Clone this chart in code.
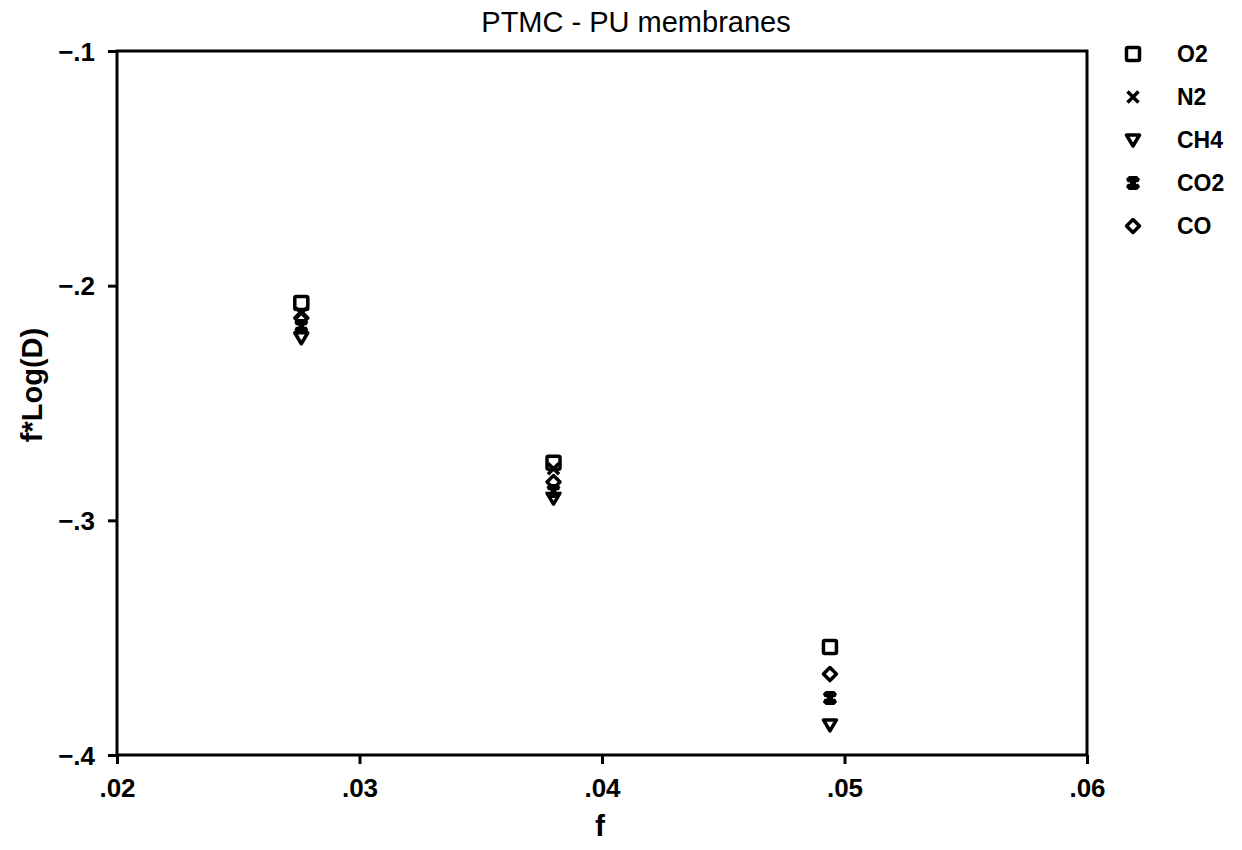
<!DOCTYPE html>
<html>
<head>
<meta charset="utf-8">
<script src="https://cdn.jsdelivr.net/npm/d3@7"></script>
<style>
  body { margin: 0; background: #fff; }
  svg { font-family: 'Liberation Sans', Arial, sans-serif; }
</style>
</head>
<body>
<script>
// readings
const gases = ['O2', 'N2', 'CH4', 'CO2', 'CO'];
const fValues = [0.0276, 0.038, 0.0494];
const o2 = [-0.2074, -0.2755, -0.354];
const n2 = [-0.2117, -0.278, -0.3757];
const ch4 = [-0.2222, -0.2905, -0.3872];
const co2 = [-0.2172, -0.2875, -0.3757];
const co = [-0.2138, -0.2837, -0.3655];
const xTicks = [0.02, 0.03, 0.04, 0.05, 0.06];
const yTicks = [-0.1, -0.2, -0.3, -0.4];

const series = { O2: o2, N2: n2, CH4: ch4, CO2: co2, CO: co };

const dimensions = {
  width: 1242,
  height: 850,
  margin: { top: 51, right: 155, bottom: 95, left: 117 },
};
dimensions.boundedWidth =
  dimensions.width - dimensions.margin.left - dimensions.margin.right;
dimensions.boundedHeight =
  dimensions.height - dimensions.margin.top - dimensions.margin.bottom;

const svg = d3
  .select('body')
  .append('svg')
  .attr('width', dimensions.width)
  .attr('height', dimensions.height);

const bounds = svg
  .append('g')
  .attr('transform', `translate(${dimensions.margin.left} ${dimensions.margin.top})`);

const xScale = d3
  .scaleLinear()
  .domain([0.02, 0.06])
  .range([0, dimensions.boundedWidth]);

const yScale = d3
  .scaleLinear()
  .domain([-0.4, -0.1])
  .range([dimensions.boundedHeight, 0]);

// old-style labels: ".02", "−.1"
const fmtX = d => '.' + d3.format('02d')(Math.round(d * 100));
const fmtY = d => '\u2212.' + Math.round(Math.abs(d) * 10);

// frame
bounds
  .append('rect')
  .attr('width', dimensions.boundedWidth)
  .attr('height', dimensions.boundedHeight)
  .attr('fill', 'none')
  .attr('stroke', '#000')
  .attr('stroke-width', 3);

const xAxis = d3
  .axisBottom(xScale)
  .tickValues(xTicks)
  .tickSize(9)
  .tickPadding(15)
  .tickFormat(fmtX);

const yAxis = d3
  .axisLeft(yScale)
  .tickValues(yTicks)
  .tickSize(9)
  .tickPadding(13)
  .tickFormat(fmtY);

const xg = bounds
  .append('g')
  .attr('transform', `translate(0 ${dimensions.boundedHeight})`)
  .call(xAxis);
const yg = bounds.append('g').call(yAxis);

[xg, yg].forEach(g => {
  g.attr('font-size', null).attr('font-family', null);
  g.select('.domain').remove();
  g.selectAll('line').attr('stroke', '#000').attr('stroke-width', 3);
  g.selectAll('text')
    .attr('fill', '#000')
    .style('font-size', '26px')
    .style('font-weight', 'bold');
});
yg.selectAll('text').attr('dy', '0.35em');

// titles
svg
  .append('text')
  .attr('x', 636)
  .attr('y', 32)
  .attr('text-anchor', 'middle')
  .style('font-size', '29px')
  .text('PTMC - PU membranes');

svg
  .append('text')
  .attr('x', 600)
  .attr('y', 836)
  .attr('text-anchor', 'middle')
  .style('font-size', '30px')
  .style('font-weight', 'bold')
  .text('f');

svg
  .append('text')
  .attr('transform', 'translate(42 385) rotate(-90)')
  .attr('text-anchor', 'middle')
  .style('font-size', '29px')
  .style('font-weight', 'bold')
  .text('f*Log(D)');

// marker drawing
function drawMarker(g, name) {
  if (name === 'O2') {
    g.append('rect')
      .attr('x', -6.5).attr('y', -6.5)
      .attr('width', 13).attr('height', 13)
      .attr('rx', 1.5)
      .attr('fill', 'none').attr('stroke', '#000').attr('stroke-width', 3.5);
  } else if (name === 'N2') {
    g.append('path')
      .attr('d', 'M-5.5,-5.5L5.5,5.5M5.5,-5.5L-5.5,5.5')
      .attr('stroke', '#000').attr('stroke-width', 3.5);
  } else if (name === 'CH4') {
    g.append('path')
      .attr('d', 'M-6.5,-5L6.5,-5L0,6Z')
      .attr('fill', 'none').attr('stroke', '#000').attr('stroke-width', 3.5)
      .attr('stroke-linejoin', 'round');
  } else if (name === 'CO2') {
    g.append('path')
      .attr('d', 'M-4,-7L4,-7L7,-4L5,0L7,4L4,7L-4,7L-7,4L-5,0L-7,-4Z')
      .attr('fill', '#000');
    g.append('line')
      .attr('x1', -7).attr('x2', -3)
      .attr('stroke', '#fff').attr('stroke-width', 1.5);
    g.append('line')
      .attr('x1', 3).attr('x2', 7)
      .attr('stroke', '#fff').attr('stroke-width', 1.5);
  } else if (name === 'CO') {
    g.append('path')
      .attr('d', 'M0,-6.5L6.5,0L0,6.5L-6.5,0Z')
      .attr('fill', 'none').attr('stroke', '#000').attr('stroke-width', 3.5)
      .attr('stroke-linejoin', 'round');
  }
}

const drawOrder = ['CH4', 'CO2', 'N2', 'CO', 'O2'];
drawOrder.forEach(name => {
  series[name].forEach((v, i) => {
    const g = bounds
      .append('g')
      .attr('transform', `translate(${xScale(fValues[i])} ${yScale(v)})`);
    drawMarker(g, name);
  });
});

// legend
const legend = svg.append('g').attr('transform', 'translate(1133 54)');
gases.forEach((name, i) => {
  const row = legend.append('g').attr('transform', `translate(0 ${i * 43})`);
  drawMarker(row, name);
  row
    .append('text')
    .attr('x', 44)
    .attr('dy', '0.35em')
    .style('font-size', '23px')
    .style('font-weight', 'bold')
    .text(name);
});
</script>
</body>
</html>
